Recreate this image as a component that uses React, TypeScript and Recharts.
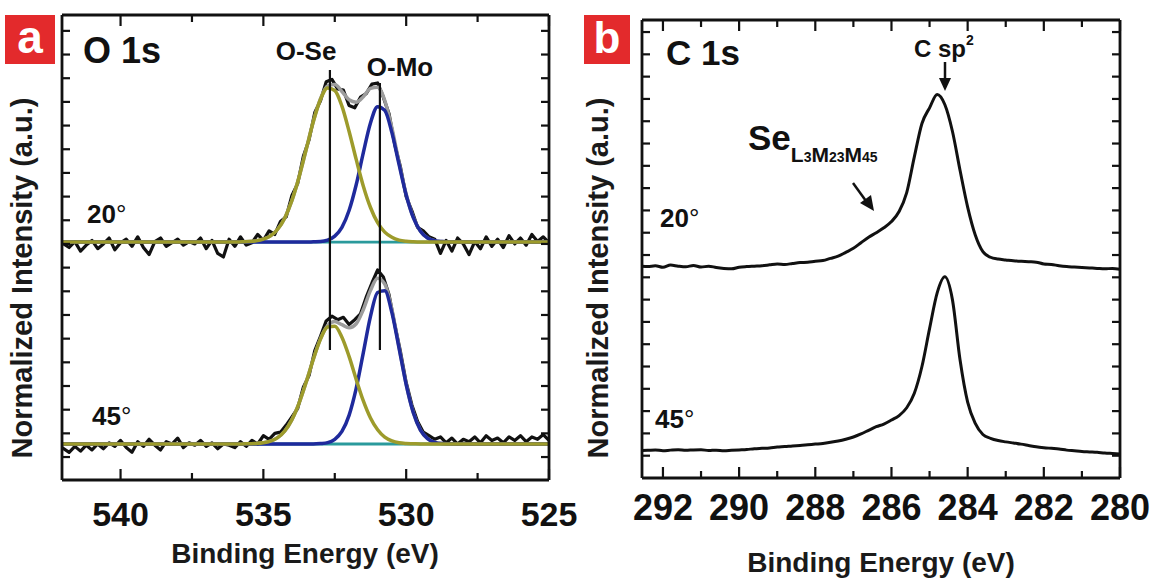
import React from "react";
import { LineChart, Line, XAxis, YAxis } from "recharts";

const FONT = '"Liberation Sans", Arial, Helvetica, sans-serif';
const INK = "#111";

// ---- panel a: O 1s ----
const oEnergy = [
  542.05, 541.8, 541.6, 541.4, 541.2, 541.0, 540.8, 540.6, 540.4, 540.2, 540.0, 539.8, 539.6, 539.4, 539.2,
  539.0, 538.8, 538.6, 538.4, 538.2, 538.0, 537.8, 537.6, 537.4, 537.2, 537.0, 536.8, 536.6, 536.4, 536.2,
  536.0, 535.8, 535.6, 535.4, 535.2, 535.0, 534.8, 534.6, 534.4, 534.2, 534.0, 533.8, 533.6, 533.4, 533.2,
  533.0, 532.8, 532.6, 532.4, 532.2, 532.0, 531.8, 531.6, 531.4, 531.2, 531.0, 530.8, 530.6, 530.4, 530.2,
  530.0, 529.8, 529.6, 529.4, 529.2, 529.0, 528.8, 528.6, 528.4, 528.2, 528.0, 527.8, 527.6, 527.4, 527.2,
  527.0, 526.8, 526.6, 526.4, 526.2, 526.0, 525.8, 525.6, 525.4, 525.2, 525.0,
];
const o20Raw = [
  10.05, 9.85, 10.1, 9.7, 9.95, 10.15, 9.8, 10.0, 10.25, 9.75, 10.05, 10.2, 9.9, 10.3, 9.85,
  9.55, 10.1, 10.25, 9.9, 10.05, 10.2, 9.95, 10.1, 10.0, 10.25, 9.8, 10.15, 9.6, 9.45, 10.2,
  9.9, 10.3, 9.95, 10.05, 10.4, 10.15, 10.55, 10.4, 10.95, 11.15, 12.05, 12.55, 13.7, 14.4, 15.55,
  16.05, 16.85, 16.95, 16.55, 16.5, 15.85, 15.75, 16.2, 16.35, 16.75, 16.8, 16.2, 15.5, 14.2, 13.25,
  12.0, 11.4, 10.7, 10.55, 10.3, 10.2, 9.6, 10.15, 9.7, 10.25, 10.0, 9.55, 10.1, 9.8, 10.3,
  9.9, 10.2, 9.85, 10.35, 10.0, 10.25, 9.95, 10.4, 10.1, 10.3, 10.05,
];
const o45Raw = [
  1.4, 1.2, 1.45, 1.25, 1.5, 1.3, 1.55, 1.35, 1.6, 1.45, 1.7, 1.4, 1.2, 1.65, 1.45,
  1.75, 1.5, 1.3, 1.65, 1.55, 1.8, 1.4, 1.6, 1.5, 1.7, 1.45, 1.6, 1.35, 1.55, 1.5,
  1.4, 1.65, 1.45, 1.7, 1.55, 1.9, 1.75, 2.0, 2.05, 2.35, 2.7, 3.05, 3.95, 4.45, 5.5,
  6.1, 6.75, 6.95, 6.8, 6.9, 6.6, 6.8, 7.05, 7.75, 8.35, 8.9, 8.6, 7.85, 6.6, 5.45,
  4.15, 3.2, 2.5, 2.05, 1.9, 1.75, 1.85, 1.6, 1.8, 1.55, 1.75, 1.65, 1.85, 1.6, 1.9,
  1.7, 1.8, 1.6, 1.85, 1.7, 1.9, 1.65, 1.85, 1.75, 1.95, 1.7,
];

const fitEnergy = [
  542.05, 536, 535.75, 535.5, 535.25, 535, 534.75, 534.5, 534.25, 534, 533.75, 533.5, 533.25, 533, 532.75,
  532.5, 532.25, 532, 531.75, 531.5, 531.25, 531, 530.75, 530.5, 530.25, 530, 529.75, 529.5, 529.25, 529,
  528.75, 528.5, 528, 525,
];
const o20Se = [
  10.08, 10.08, 10.09, 10.1, 10.13, 10.2, 10.34, 10.62, 11.1, 11.84, 12.83, 14.0, 15.17, 16.11, 16.59,
  16.48, 15.82, 14.76, 13.57, 12.44, 11.54, 10.9, 10.5, 10.28, 10.16, 10.11, 10.09, 10.08, 10.08, 10.08,
  10.08, 10.08, 10.08, 10.08,
];
const o20Mo = [
  10.08, 10.08, 10.08, 10.08, 10.08, 10.08, 10.08, 10.08, 10.08, 10.08, 10.08, 10.08, 10.09, 10.1, 10.16,
  10.33, 10.7, 11.41, 12.5, 13.86, 15.11, 15.8, 15.64, 14.7, 13.36, 12.07, 11.11, 10.54, 10.25, 10.14,
  10.1, 10.08, 10.08, 10.08,
];
const o20Env = [
  10.08, 10.08, 10.09, 10.1, 10.13, 10.2, 10.34, 10.62, 11.1, 11.84, 12.83, 14.0, 15.18, 16.14, 16.68,
  16.73, 16.44, 16.09, 15.99, 16.22, 16.57, 16.62, 16.06, 14.9, 13.44, 12.1, 11.12, 10.54, 10.25, 10.14,
  10.1, 10.08, 10.08, 10.08,
];
const o45Se = [
  1.55, 1.55, 1.55, 1.56, 1.57, 1.6, 1.67, 1.82, 2.1, 2.58, 3.28, 4.17, 5.13, 5.98, 6.49,
  6.52, 6.06, 5.25, 4.28, 3.37, 2.65, 2.15, 1.84, 1.68, 1.6, 1.57, 1.56, 1.55, 1.55, 1.55,
  1.55, 1.55, 1.55, 1.55,
];
const o45Mo = [
  1.55, 1.55, 1.55, 1.55, 1.55, 1.55, 1.55, 1.55, 1.55, 1.55, 1.55, 1.55, 1.55, 1.57, 1.61,
  1.75, 2.08, 2.76, 3.9, 5.41, 6.94, 7.95, 8.02, 7.1, 5.6, 4.06, 2.87, 2.14, 1.78, 1.62,
  1.57, 1.56, 1.55, 1.55,
];
const o45Env = [
  1.55, 1.55, 1.55, 1.56, 1.57, 1.6, 1.67, 1.82, 2.1, 2.58, 3.28, 4.17, 5.14, 6.0, 6.55,
  6.72, 6.59, 6.46, 6.63, 7.23, 8.04, 8.55, 8.31, 7.23, 5.65, 4.08, 2.88, 2.14, 1.78, 1.62,
  1.57, 1.56, 1.55, 1.55,
];
const baseEnergy = [542.05, 525];
const o20Base = [10.08, 10.08];
const o45Base = [1.55, 1.55];

// peak position markers (O-Se, O-Mo)
const seMarkE = [532.67, 532.67];
const seMarkV = [17.35, 5.52];
const moMarkE = [530.92, 530.92];
const moMarkV = [16.8, 5.52];

const oTicks = [540, 537.5, 535, 532.5, 530, 527.5, 525];
const oMajor = [540, 535, 530, 525];
const oYTicks = [1, 2, 3, 4, 5, 6, 7, 8, 9, 10, 11, 12, 13, 14, 15, 16, 17, 18, 19];

// ---- panel b: C 1s ----
const cEnergy = [
  292.55, 292.4, 292.2, 292.0, 291.8, 291.6, 291.4, 291.2, 291.0, 290.8, 290.6, 290.4, 290.2, 290.0, 289.8,
  289.6, 289.4, 289.2, 289.0, 288.8, 288.6, 288.4, 288.2, 288.0, 287.8, 287.6, 287.4, 287.2, 287.0, 286.8,
  286.6, 286.4, 286.2, 286.0, 285.8, 285.6, 285.4, 285.2, 285.0, 284.8, 284.6, 284.4, 284.2, 284.0, 283.8,
  283.6, 283.4, 283.2, 283.0, 282.8, 282.6, 282.4, 282.2, 282.0, 281.8, 281.6, 281.4, 281.2, 281.0, 280.8,
  280.6, 280.4, 280.2, 280.0,
];
const c20 = [
  9.5, 9.48, 9.52, 9.45, 9.55, 9.5, 9.47, 9.53, 9.46, 9.5, 9.44, 9.4, 9.38, 9.45, 9.48,
  9.5, 9.52, 9.56, 9.6, 9.58, 9.62, 9.66, 9.68, 9.72, 9.75, 9.85, 9.95, 10.12, 10.3, 10.55,
  10.8, 11.0, 11.22, 11.5, 11.95, 12.8, 14.4, 15.9, 16.6, 17.2, 16.75, 15.55, 13.8, 12.15, 10.9,
  10.15, 9.9, 9.82, 9.78, 9.74, 9.72, 9.7, 9.68, 9.6, 9.58, 9.52, 9.48, 9.46, 9.44, 9.42,
  9.4, 9.38, 9.4, 9.36,
];
const c45 = [
  1.23, 1.24, 1.26, 1.22, 1.25, 1.27, 1.24, 1.26, 1.27, 1.23, 1.25, 1.22, 1.24, 1.26, 1.28,
  1.31, 1.33, 1.35, 1.39, 1.41, 1.44, 1.46, 1.49, 1.52, 1.55, 1.6, 1.66, 1.74, 1.84, 1.98,
  2.14, 2.3, 2.42, 2.6, 2.8, 3.15, 3.8, 5.0, 6.7, 8.3, 9.02, 8.0, 5.3, 3.4, 2.45,
  1.95, 1.78, 1.68, 1.62, 1.57, 1.52, 1.46, 1.4, 1.36, 1.33, 1.3, 1.25, 1.22, 1.19, 1.17,
  1.15, 1.12, 1.1, 1.08,
];
const cTicks = [292, 291, 290, 289, 288, 287, 286, 285, 284, 283, 282, 281, 280];
const cMajor = [292, 290, 288, 286, 284, 282, 280];
const cYTicks = [1, 2, 3, 4, 5, 6, 7, 8, 9, 10, 11, 12, 13, 14, 15, 16, 17, 18, 19, 20];

const COLORS = {
  raw: "#111111",
  envelope: "#9c9c9c",
  se: "#9d9b2b",
  mo: "#1f2a9c",
  base: "#2a9a9c",
};

const pts = (xs: number[], ys: number[]) => xs.map((e, i) => ({ e, v: ys[i] }));

// tick renderers: tickSize/tickMargin are 0, so x/y handed in are the axis-line points
const xTick = (side: "top" | "bottom", major: number[], labelDy: number, fontSize: number) =>
  function XTick(p: any) {
    const isMajor = major.includes(p.payload.value);
    const len = isMajor ? 11 : 7;
    const dir = side === "bottom" ? -1 : 1;
    return (
      <g>
        <line x1={p.x} x2={p.x} y1={p.y} y2={p.y + dir * len} stroke={INK} strokeWidth={2.2} />
        {side === "bottom" && isMajor ? (
          <text
            x={p.x}
            y={p.y + labelDy}
            textAnchor="middle"
            fontSize={fontSize}
            fontWeight="bold"
            fontFamily={FONT}
            fill={INK}
          >
            {p.payload.value}
          </text>
        ) : null}
      </g>
    );
  };

const yTick = (side: "left" | "right") =>
  function YTick(p: any) {
    const dir = side === "left" ? 1 : -1;
    return <line x1={p.x} x2={p.x + dir * 8} y1={p.y} y2={p.y} stroke={INK} strokeWidth={2.2} />;
  };

const frame = { stroke: INK, strokeWidth: 2.8 };

function lineProps(color: string, width: number, curve: "linear" | "monotone") {
  return {
    xAxisId: "b",
    yAxisId: "l",
    dataKey: "v",
    stroke: color,
    strokeWidth: width,
    type: curve,
    dot: false,
    activeDot: false,
    isAnimationActive: false,
    strokeLinejoin: "round" as const,
  };
}

function OPanel() {
  return (
    <LineChart width={600} height={578} margin={{ top: 5, left: 52, right: 41, bottom: 38 }}>
      <XAxis
        xAxisId="b"
        dataKey="e"
        type="number"
        domain={[525, 542.05]}
        reversed
        allowDataOverflow
        ticks={oTicks}
        interval={0}
        height={60}
        tickSize={0}
        tickMargin={0}
        tickLine={false}
        axisLine={frame}
        tick={xTick("bottom", oMajor, 46, 34)}
      />
      <XAxis
        xAxisId="t"
        orientation="top"
        dataKey="e"
        type="number"
        domain={[525, 542.05]}
        reversed
        allowDataOverflow
        ticks={oTicks}
        interval={0}
        height={10}
        tickSize={0}
        tickMargin={0}
        tickLine={false}
        axisLine={frame}
        tick={xTick("top", oMajor, 0, 0)}
      />
      <YAxis
        yAxisId="l"
        type="number"
        domain={[0.03, 19.67]}
        allowDataOverflow
        ticks={oYTicks}
        interval={0}
        width={10}
        tickSize={0}
        tickMargin={0}
        tickLine={false}
        axisLine={frame}
        tick={yTick("left")}
      />
      <YAxis
        yAxisId="r"
        orientation="right"
        type="number"
        domain={[0.03, 19.67]}
        allowDataOverflow
        ticks={oYTicks}
        interval={0}
        width={10}
        tickSize={0}
        tickMargin={0}
        tickLine={false}
        axisLine={frame}
        tick={yTick("right")}
      />
      <Line data={pts(baseEnergy, o20Base)} {...lineProps(COLORS.base, 2.8, "linear")} />
      <Line data={pts(baseEnergy, o45Base)} {...lineProps(COLORS.base, 2.8, "linear")} />
      <Line data={pts(oEnergy, o20Raw)} {...lineProps(COLORS.raw, 3.2, "linear")} />
      <Line data={pts(oEnergy, o45Raw)} {...lineProps(COLORS.raw, 3.2, "linear")} />
      <Line data={pts(fitEnergy, o20Env)} {...lineProps(COLORS.envelope, 3.5, "monotone")} />
      <Line data={pts(fitEnergy, o45Env)} {...lineProps(COLORS.envelope, 3.5, "monotone")} />
      <Line data={pts(fitEnergy, o20Mo)} {...lineProps(COLORS.mo, 3.5, "monotone")} />
      <Line data={pts(fitEnergy, o45Mo)} {...lineProps(COLORS.mo, 3.5, "monotone")} />
      <Line data={pts(fitEnergy, o20Se)} {...lineProps(COLORS.se, 3.5, "monotone")} />
      <Line data={pts(fitEnergy, o45Se)} {...lineProps(COLORS.se, 3.5, "monotone")} />
      <Line data={pts(seMarkE, seMarkV)} {...lineProps(INK, 2.2, "linear")} />
      <Line data={pts(moMarkE, moMarkV)} {...lineProps(INK, 2.2, "linear")} />
    </LineChart>
  );
}

function CPanel() {
  return (
    <LineChart width={572} height={578} margin={{ top: 10, left: 52, right: 22, bottom: 40 }}>
      <XAxis
        xAxisId="b"
        dataKey="e"
        type="number"
        domain={[280, 292.55]}
        reversed
        allowDataOverflow
        ticks={cTicks}
        interval={0}
        height={60}
        tickSize={0}
        tickMargin={0}
        tickLine={false}
        axisLine={frame}
        tick={xTick("bottom", cMajor, 42, 36)}
      />
      <XAxis
        xAxisId="t"
        orientation="top"
        dataKey="e"
        type="number"
        domain={[280, 292.55]}
        reversed
        allowDataOverflow
        ticks={cTicks}
        interval={0}
        height={10}
        tickSize={0}
        tickMargin={0}
        tickLine={false}
        axisLine={frame}
        tick={xTick("top", cMajor, 0, 0)}
      />
      <YAxis
        yAxisId="l"
        type="number"
        domain={[0, 20.54]}
        allowDataOverflow
        ticks={cYTicks}
        interval={0}
        width={10}
        tickSize={0}
        tickMargin={0}
        tickLine={false}
        axisLine={frame}
        tick={yTick("left")}
      />
      <YAxis
        yAxisId="r"
        orientation="right"
        type="number"
        domain={[0, 20.54]}
        allowDataOverflow
        ticks={cYTicks}
        interval={0}
        width={10}
        tickSize={0}
        tickMargin={0}
        tickLine={false}
        axisLine={frame}
        tick={yTick("right")}
      />
      <Line data={pts(cEnergy, c20)} {...lineProps(COLORS.raw, 3, "monotone")} />
      <Line data={pts(cEnergy, c45)} {...lineProps(COLORS.raw, 3, "monotone")} />
    </LineChart>
  );
}

function Annotations() {
  return (
    <svg
      width={1152}
      height={578}
      style={{ position: "absolute", left: 0, top: 0, pointerEvents: "none" }}
      fontFamily={FONT}
      fontWeight="bold"
      fill={INK}
    >
      {/* panel badges */}
      <rect x={5} y={15} width={50} height={49} fill="#e32a2c" />
      <text x={30} y={53} fontSize={46} fill="#fff" textAnchor="middle">a</text>
      <rect x={584} y={15} width={46} height={49} fill="#e32a2c" />
      <text x={607} y={53} fontSize={44} fill="#fff" textAnchor="middle">b</text>

      {/* panel a labels */}
      <text x={83} y={63} fontSize={36}>O 1s</text>
      <text x={306} y={60} fontSize={26} textAnchor="middle">O-Se</text>
      <text x={400} y={76} fontSize={26} textAnchor="middle">O-Mo</text>
      <text x={87} y={223} fontSize={26}>
        20<tspan fontWeight="normal">°</tspan>
      </text>
      <text x={92} y={425} fontSize={26}>
        45<tspan fontWeight="normal">°</tspan>
      </text>
      <text transform="translate(32,278) rotate(-90)" textAnchor="middle" fontSize={29} fill="#1a1a1a">
        Normalized Intensity (a.u.)
      </text>
      <text x={305} y={563} textAnchor="middle" fontSize={28} fill="#1a1a1a">
        Binding Energy (eV)
      </text>

      {/* panel b labels */}
      <text x={666} y={65} fontSize={35}>C 1s</text>
      <text x={914} y={57} fontSize={24}>
        C sp<tspan fontSize={14} dy={-12}>2</tspan>
      </text>
      <line x1={945} y1={62} x2={945} y2={80} stroke={INK} strokeWidth={2.5} />
      <polygon points="939,78 951,78 945,91" fill={INK} />
      <text x={748} y={150} fontSize={35}>
        Se
        <tspan fontSize={21} dy={12}>L</tspan>
        <tspan fontSize={14}>3</tspan>
        <tspan fontSize={21}>M</tspan>
        <tspan fontSize={14}>23</tspan>
        <tspan fontSize={21}>M</tspan>
        <tspan fontSize={14}>45</tspan>
      </text>
      <line x1={853} y1={183} x2={866} y2={201} stroke={INK} strokeWidth={2.5} />
      <polygon points="860,203 871,195 874,211" fill={INK} />
      <text x={660} y={227} fontSize={26}>
        20<tspan fontWeight="normal">°</tspan>
      </text>
      <text x={655} y={428} fontSize={26}>
        45<tspan fontWeight="normal">°</tspan>
      </text>
      <text transform="translate(608,278) rotate(-90)" textAnchor="middle" fontSize={29} fill="#1a1a1a">
        Normalized Intensity (a.u.)
      </text>
      <text x={881} y={572} textAnchor="middle" fontSize={28} fill="#1a1a1a">
        Binding Energy (eV)
      </text>
    </svg>
  );
}

export default function App() {
  return (
    <div style={{ position: "absolute", left: 0, top: 0, width: 1152, height: 578, background: "#fff", overflow: "hidden" }}>
      <div style={{ position: "absolute", left: 0, top: 0 }}>
        <OPanel />
      </div>
      <div style={{ position: "absolute", left: 580, top: 0 }}>
        <CPanel />
      </div>
      <Annotations />
    </div>
  );
}
